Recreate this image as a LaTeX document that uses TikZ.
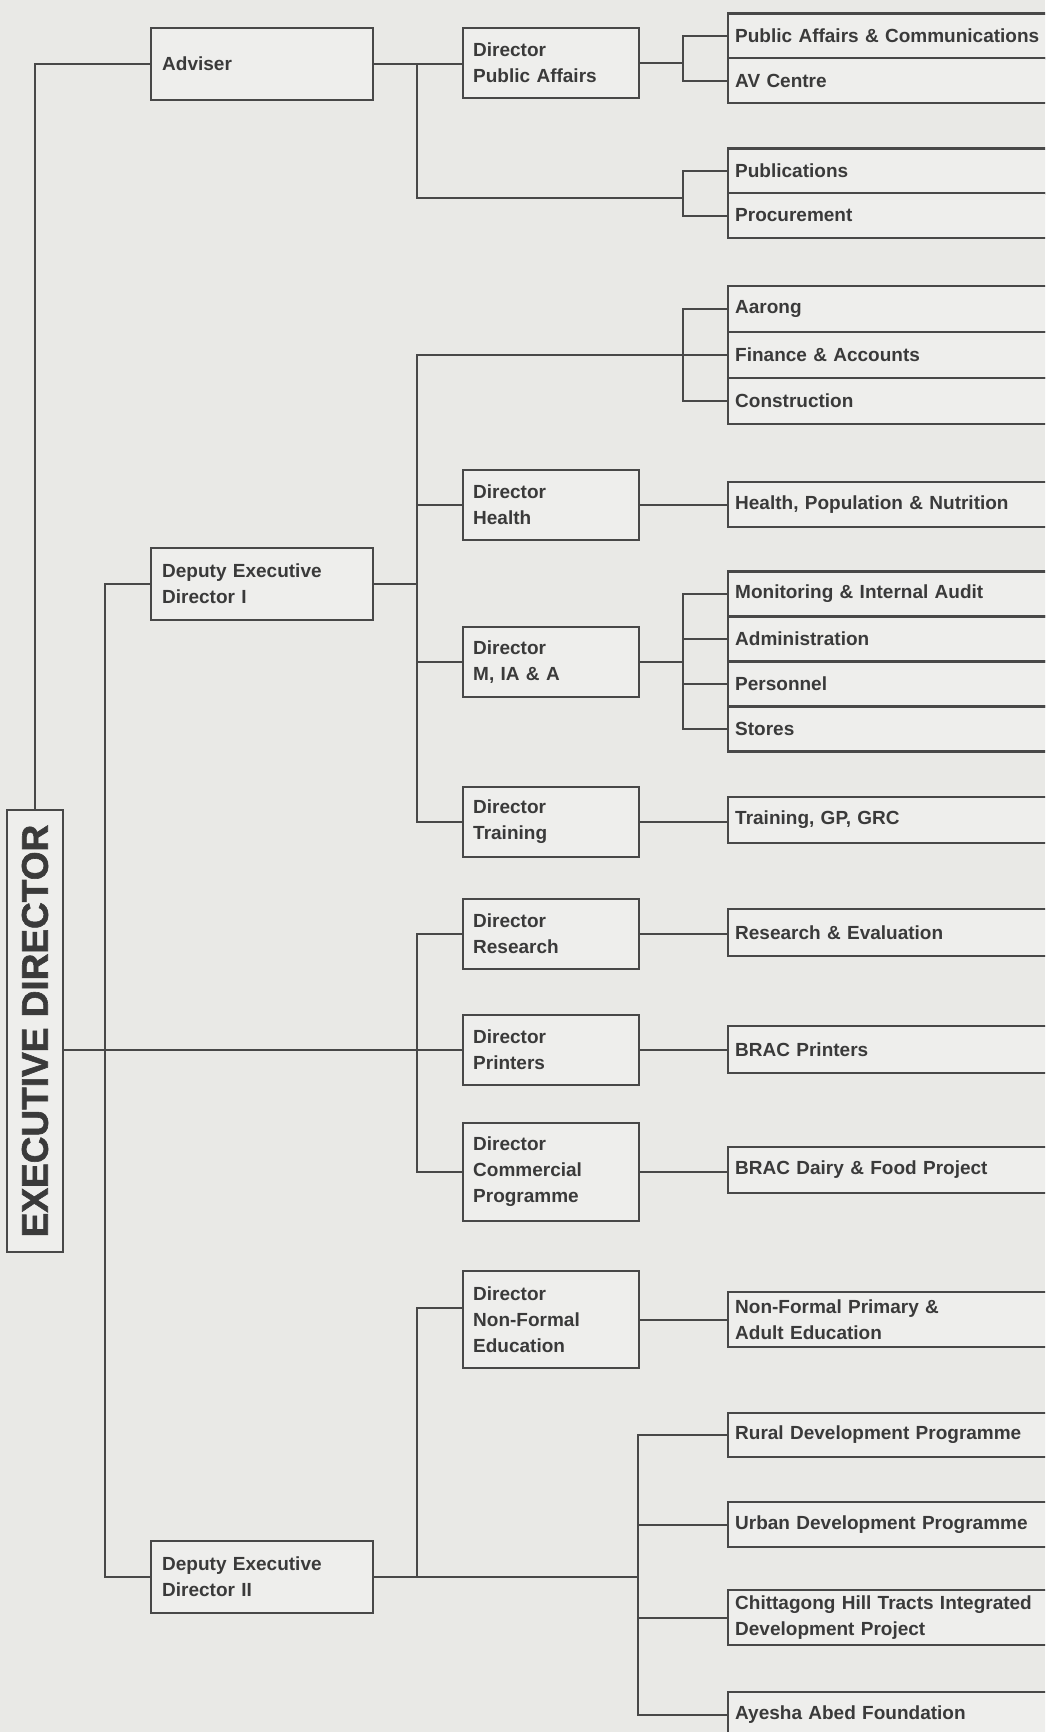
\documentclass[tikz,border=0pt]{standalone}
\usepackage{fontspec}
\setmainfont{Liberation Sans}
\newfontfamily\edfont[FakeBold=1.6]{Liberation Sans Bold}
\usepackage{graphicx}
\usepackage{tikz}
\usetikzlibrary{positioning,calc}
\definecolor{cPaper}{RGB}{233,233,230}
\definecolor{cBox}{RGB}{238,238,236}
\definecolor{cInk}{RGB}{72,72,72}
\definecolor{cText}{RGB}{58,58,58}
\newcommand{\boxfont}{\fontsize{19}{26}\selectfont\bfseries}

\begin{document}
\begin{tikzpicture}[x=1pt, y=-1pt,
  edbox/.style={draw=cInk, fill=cBox, line width=2.6pt, minimum width=56pt, minimum height=442pt, inner sep=0pt, text=cText, font=\edfont\fontsize{37}{40}\selectfont},
  dep/.style={draw=cInk, fill=cBox, line width=2.4pt, minimum height=72pt, text width=200pt, inner xsep=11pt, align=left, anchor=west, text=cText, font=\boxfont},
  dir/.style={draw=cInk, fill=cBox, line width=2.4pt, text width=156pt, inner xsep=10pt, align=left, anchor=west, text=cText, font=\boxfont},
  unit/.style={draw=cInk, fill=cBox, line width=2.4pt, text width=400pt, inner xsep=7pt, align=left, anchor=west, text=cText, font=\boxfont},
  lnk/.style={draw=cInk, line width=2pt}]
\path[use as bounding box, fill=cPaper] (0,0) rectangle (1045,1732);
\clip (0,0) rectangle (1045,1732);
% junction columns
\coordinate (t2) at (105,0);
\coordinate (j1) at (417,0);
\coordinate (b1) at (683,0);
\coordinate (b3) at (638,0);
% top level
\node[edbox] (ed) at (35,1031) {\rotatebox{90}{EXECUTIVE DIRECTOR}};
\node[dep] (adv) at (150,64) {Adviser};
\node[dep] (dedI) at (150,584) {Deputy Executive\\Director I};
\node[dep] (dedII) at (150,1577) {Deputy Executive\\Director II};
% directors
\foreach \n/\y/\h/\t in {dpa/63/70/{Director\\Public Affairs}, dhl/505/70/{Director\\Health},
    dmia/662/70/{Director\\M, IA \& A}, dtr/822/70/{Director\\Training}, drs/934/70/{Director\\Research},
    dpr/1050/70/{Director\\Printers}, dcp/1172/98/{Director\\Commercial\\Programme},
    dnfe/1319.5/97/{Director\\Non-Formal\\Education}}
  \node[dir, minimum height=\h] (\n) at (462,\y) {\t};
% units
\foreach \n/\y/\h/\t in {uPAC/36/45/{Public Affairs \& Communications}, uAV/80.5/45/{AV Centre},
    uPub/171/45/{Publications}, uProc/215.5/45/{Procurement},
    uAar/309/46/{Aarong}, uFin/355/46/{Finance \& Accounts}, uCon/401/46/{Construction},
    uHPN/504.5/45/{Health, Population \& Nutrition},
    uMon/594/45/{Monitoring \& Internal Audit}, uAdm/639/45/{Administration},
    uPer/684/45/{Personnel}, uSto/729/45/{Stores},
    uTGG/820/46/{Training, GP, GRC}, uRE/932.5/47/{Research \& Evaluation},
    uBP/1049.5/47/{BRAC Printers}, uDairy/1170/46/{BRAC Dairy \& Food Project},
    uNFP/1319.5/55/{Non-Formal Primary \&\\Adult Education},
    uRDP/1435/44/{Rural Development Programme}, uUDP/1524.5/45/{Urban Development Programme},
    uCHT/1617.5/55/{Chittagong Hill Tracts Integrated\\Development Project},
    uAAF/1714.5/45/{Ayesha Abed Foundation}}
  \node[unit, minimum height=\h] (\n) at (727,\y) {\t};
% executive director links
\draw[lnk] (ed.north) |- (adv.west);
\draw[lnk] (ed.east |- dpr.west) -- (dpr.west);
\draw[lnk] (dedI.west) -| (t2 |- dedII.west) -- (dedII.west);
% adviser branch
\draw[lnk] (adv.east) -- (adv.east -| dpa.west);
\draw[lnk] (j1 |- adv.east) |- (b1 |- 0,198);
\draw[lnk] (dpa.east) -- (dpa.east -| b1);
\draw[lnk] (uPAC.west) -| (b1 |- uAV.west) -- (uAV.west);
\draw[lnk] (uPub.west) -| (b1 |- uProc.west) -- (uProc.west);
% deputy I branch
\draw[lnk] (uFin.west) -| (j1 |- dtr.west) -- (dtr.west);
\draw[lnk] (uAar.west) -| (b1 |- uCon.west) -- (uCon.west);
\draw[lnk] (dedI.east) -- (j1 |- dedI.east);
\foreach \n in {dhl,dmia} \draw[lnk] (j1 |- \n.west) -- (\n.west);
\draw[lnk] (dmia.east) -- (dmia.east -| b1);
\draw[lnk] (uMon.west) -| (b1 |- uSto.west) -- (uSto.west);
\foreach \n in {uAdm,uPer} \draw[lnk] (b1 |- \n.west) -- (\n.west);
% research, printers, commercial
\draw[lnk] (drs.west) -| (j1 |- dcp.west) -- (dcp.west);
\foreach \a/\b in {dhl/uHPN, dtr/uTGG, drs/uRE, dpr/uBP, dcp/uDairy, dnfe/uNFP}
  \draw[lnk] (\a.east) -- (\a.east -| \b.west);
% deputy II branch
\draw[lnk] ([yshift=12pt]dnfe.west) -| (j1 |- dedII.east);
\draw[lnk] (dedII.east) -- (b3 |- dedII.east);
\draw[lnk] (uRDP.west) -| (b3 |- uAAF.west) -- (uAAF.west);
\foreach \n in {uUDP,uCHT} \draw[lnk] (b3 |- \n.west) -- (\n.west);
\end{tikzpicture}
\end{document}
